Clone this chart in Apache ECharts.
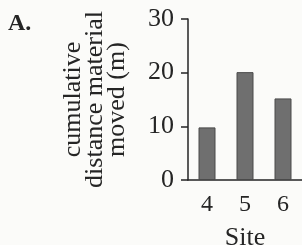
<!DOCTYPE html>
<html>
<head>
<meta charset="utf-8">
<script src="https://cdn.jsdelivr.net/npm/echarts@6/dist/echarts.min.js"></script>
<style>
  html, body { margin: 0; padding: 0; background: #fbfbf9; }
  #chart { width: 302px; height: 245px; }
</style>
</head>
<body>
<div id="chart"></div>
<script>
const sites = ['4', '5', '6'];
const distance = [9.8, 20.1, 15.2];
const yTicks = [0, 10, 20, 30];

const chart = echarts.init(document.getElementById('chart'));
const font = '"Liberation Serif", "DejaVu Serif", serif';
const ink = '#252525';

const option = {
  backgroundColor: '#fbfbf9',
  animation: false,
  title: {
    text: 'A.',
    left: 3,
    top: 7,
    textStyle: { fontFamily: font, fontSize: 24, fontWeight: 'bold', color: ink }
  },
  grid: { left: 188, right: 0, top: 19, bottom: 65, outerBoundsMode: 'none' },
  xAxis: {
    type: 'category',
    data: sites,
    name: 'Site',
    nameLocation: 'middle',
    nameGap: 45,
    nameTextStyle: { fontFamily: font, fontSize: 26, color: ink },
    axisLine: { lineStyle: { color: ink, width: 1.5 } },
    axisTick: { alignWithLabel: true, length: 7, lineStyle: { color: ink, width: 1.5 } },
    axisLabel: { fontFamily: font, fontSize: 24, color: ink, margin: 13 }
  },
  yAxis: {
    type: 'value',
    min: yTicks[0],
    max: yTicks[yTicks.length - 1],
    interval: 10,
    name: 'cumulative\ndistance material\nmoved (m)',
    nameLocation: 'middle',
    nameRotate: 90,
    nameGap: 60,
    nameTextStyle: { fontFamily: font, fontSize: 26, color: ink, lineHeight: 22 },
    axisLine: { show: true, lineStyle: { color: ink, width: 1.5 } },
    axisTick: { show: true, length: 7, lineStyle: { color: ink, width: 1.5 } },
    axisLabel: { fontFamily: font, fontSize: 26, color: ink, margin: 14 },
    splitLine: { show: false }
  },
  series: [{
    type: 'bar',
    data: distance,
    barWidth: 17,
    itemStyle: { color: '#6f6f6f', borderColor: '#4a4a4a', borderWidth: 1 }
  }]
};

chart.setOption(option);
</script>
</body>
</html>
